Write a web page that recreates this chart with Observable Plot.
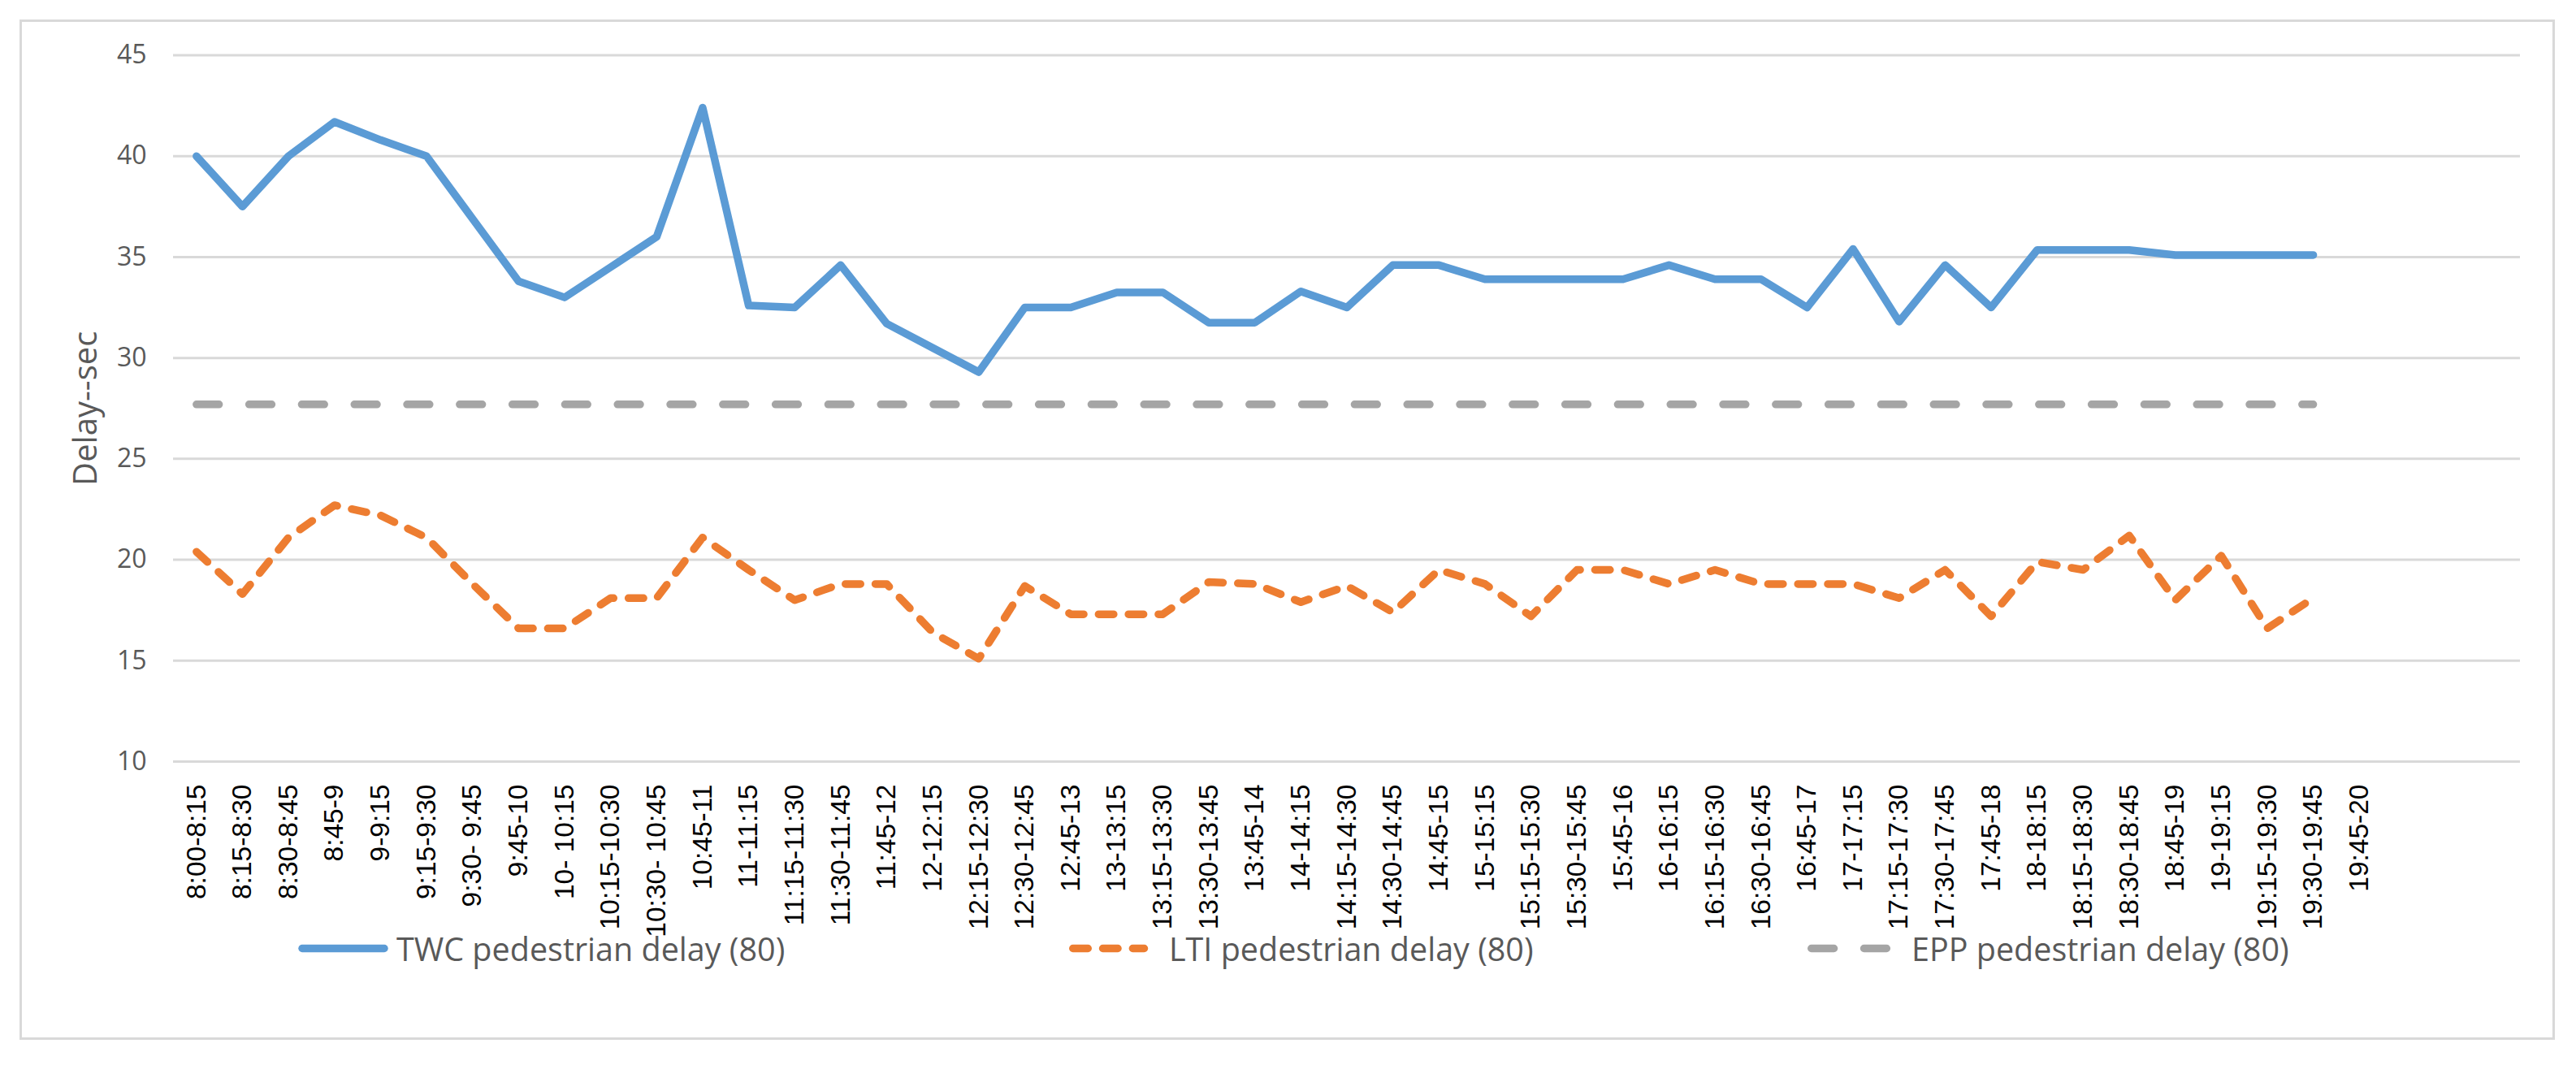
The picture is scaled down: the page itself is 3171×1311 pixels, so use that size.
<!DOCTYPE html>
<html>
<head>
<meta charset="utf-8">
<script src="https://cdn.jsdelivr.net/npm/d3@7"></script>
<script src="https://cdn.jsdelivr.net/npm/@observablehq/plot@0.6"></script>
<style>
  html, body { margin: 0; padding: 0; background: #fff; }
  #wrap { position: relative; width: 3171px; height: 1311px; overflow: hidden; background: #fff; }
  #chart { position: absolute; left: 0; top: 0; }
  #frame { position: absolute; left: 23.5px; top: 23.5px; width: 3121px; height: 1256px;
           border: 3px solid #d9d9d9; box-sizing: border-box; pointer-events: none; }
  #legend { position: absolute; left: 0; top: 1148px; width: 3171px; height: 40px;
            font-family: "Open Sans", sans-serif; font-size: 39.5px; color: #595959; }
  .sw { position: absolute; top: 0; }
  .lt { position: absolute; top: 0; height: 40px; line-height: 40px; white-space: nowrap; }
</style>
</head>
<body>
<div id="wrap">
  <div id="chart"></div>
  <div id="legend"></div>
  <div id="frame"></div>
</div>
<script>
// Categories (15-minute intervals)
const labels = [
  "8:00-8:15", "8:15-8:30", "8:30-8:45", "8:45-9", "9-9:15", "9:15-9:30", "9:30- 9:45", "9:45-10",
  "10- 10:15", "10:15-10:30", "10:30- 10:45", "10:45-11", "11-11:15", "11:15-11:30", "11:30-11:45", "11:45-12",
  "12-12:15", "12:15-12:30", "12:30-12:45", "12:45-13", "13-13:15", "13:15-13:30", "13:30-13:45", "13:45-14",
  "14-14:15", "14:15-14:30", "14:30-14:45", "14:45-15", "15-15:15", "15:15-15:30", "15:30-15:45", "15:45-16",
  "16-16:15", "16:15-16:30", "16:30-16:45", "16:45-17", "17-17:15", "17:15-17:30", "17:30-17:45", "17:45-18",
  "18-18:15", "18:15-18:30", "18:30-18:45", "18:45-19", "19-19:15", "19:15-19:30", "19:30-19:45", "19:45-20"
];

// Series values (sec)
const twc = [
  40.0, 37.5, 40.0, 41.7, 40.8, 40.0, 36.9, 33.8, 33.0, 34.5, 36.0, 42.4,
  32.6, 32.5, 34.6, 31.7, 30.5, 29.3, 32.5, 32.5, 33.25, 33.25, 31.75, 31.75,
  33.3, 32.5, 34.6, 34.6, 33.9, 33.9, 33.9, 33.9, 34.6, 33.9, 33.9, 32.5,
  35.4, 31.8, 34.6, 32.5, 35.35, 35.35, 35.35, 35.1, 35.1, 35.1, 35.1
];
const lti = [
  20.4, 18.3, 21.1, 22.7, 22.2, 21.1, 18.8, 16.6, 16.6, 18.1, 18.1, 21.1,
  19.5, 18.0, 18.8, 18.8, 16.4, 15.1, 18.7, 17.3, 17.3, 17.3, 18.9, 18.8,
  17.9, 18.7, 17.4, 19.5, 18.8, 17.2, 19.5, 19.5, 18.8, 19.5, 18.8, 18.8,
  18.8, 18.1, 19.5, 17.2, 19.9, 19.5, 21.2, 18.0, 20.2, 16.6, 18.1
];
const epp = [
  27.7, 27.7, 27.7, 27.7, 27.7, 27.7, 27.7, 27.7, 27.7, 27.7, 27.7, 27.7,
  27.7, 27.7, 27.7, 27.7, 27.7, 27.7, 27.7, 27.7, 27.7, 27.7, 27.7, 27.7,
  27.7, 27.7, 27.7, 27.7, 27.7, 27.7, 27.7, 27.7, 27.7, 27.7, 27.7, 27.7,
  27.7, 27.7, 27.7, 27.7, 27.7, 27.7, 27.7, 27.7, 27.7, 27.7, 27.7
];
const seriesNames = ["TWC pedestrian delay (80)", "LTI pedestrian delay (80)", "EPP pedestrian delay (80)"];
const seriesColors = ["#5b9bd5", "#ed7d31", "#a5a5a5"];
const yTicks = [10, 15, 20, 25, 30, 35, 40, 45];
const yTitle = "Delay--sec";

const data = twc.map((v, i) => ({i, label: labels[i], twc: v, lti: lti[i], epp: epp[i]}));
const xTicks = labels.map((d, i) => i);

const chart = Plot.plot({
  width: 3171,
  height: 1162,
  marginLeft: 213,
  marginRight: 69,
  marginTop: 67.5,
  marginBottom: 225,
  style: {background: "transparent"},
  x: {type: "linear", domain: [-0.5, 50.5], label: null},
  y: {domain: [10, 45], label: null},
  marks: [
    Plot.ruleY(yTicks, {stroke: "#d9d9d9", strokeWidth: 3}),
    Plot.axisY({ticks: yTicks, tickSize: 0, tickPadding: 33, fontSize: 32, label: null,
                fontFamily: "Open Sans", color: "#595959", tickFormat: d => String(d)}),
    Plot.axisX({ticks: xTicks, tickFormat: i => labels[i], tickRotate: -90, tickSize: 0, label: null,
                tickPadding: 28, fontSize: 33.5, fontFamily: "Liberation Sans", color: "#000",
                textAnchor: "end", lineAnchor: "middle"}),
    Plot.text([yTitle], {frameAnchor: "left", rotate: -90, dx: -107, fontSize: 40,
                fontFamily: "Open Sans", fill: "#595959", textAnchor: "middle", lineAnchor: "middle"}),
    Plot.line(data, {x: "i", y: "twc", stroke: seriesColors[0], strokeWidth: 9.5,
                     strokeLinejoin: "round", strokeLinecap: "round"}),
    Plot.line(data, {x: "i", y: "lti", stroke: seriesColors[1], strokeWidth: 9.5,
                     strokeDasharray: "18.5,18.3", strokeLinejoin: "round", strokeLinecap: "round"}),
    Plot.line(data, {x: "i", y: "epp", stroke: seriesColors[2], strokeWidth: 9.5,
                     strokeDasharray: "27.8,37", strokeLinecap: "round"})
  ]
});
document.getElementById("chart").appendChild(chart);

// Legend (HTML)
const legend = document.getElementById("legend");
const swatchLeft = [367, 1316, 2225];
const textLeft = [488, 1439, 2353];
const dashes = [null, "18.5,18.3", "27.8,37"];
const ends = [[372, 473], [1320.75, 1408.5], [2229.75, 2332]];
seriesNames.forEach((name, k) => {
  const x0 = swatchLeft[k];
  const svg = document.createElementNS("http://www.w3.org/2000/svg", "svg");
  svg.setAttribute("class", "sw");
  svg.setAttribute("width", 130);
  svg.setAttribute("height", 40);
  svg.style.left = (x0 - 5) + "px";
  const ln = document.createElementNS("http://www.w3.org/2000/svg", "line");
  ln.setAttribute("x1", ends[k][0] - x0 + 5);
  ln.setAttribute("x2", ends[k][1] - x0 + 5);
  ln.setAttribute("y1", 19.5);
  ln.setAttribute("y2", 19.5);
  ln.setAttribute("stroke", seriesColors[k]);
  ln.setAttribute("stroke-width", 9.5);
  ln.setAttribute("stroke-linecap", "round");
  if (dashes[k]) ln.setAttribute("stroke-dasharray", dashes[k]);
  svg.appendChild(ln);
  legend.appendChild(svg);
  const t = document.createElement("span");
  t.className = "lt";
  t.style.left = textLeft[k] + "px";
  t.textContent = name;
  legend.appendChild(t);
});
</script>
</body>
</html>
